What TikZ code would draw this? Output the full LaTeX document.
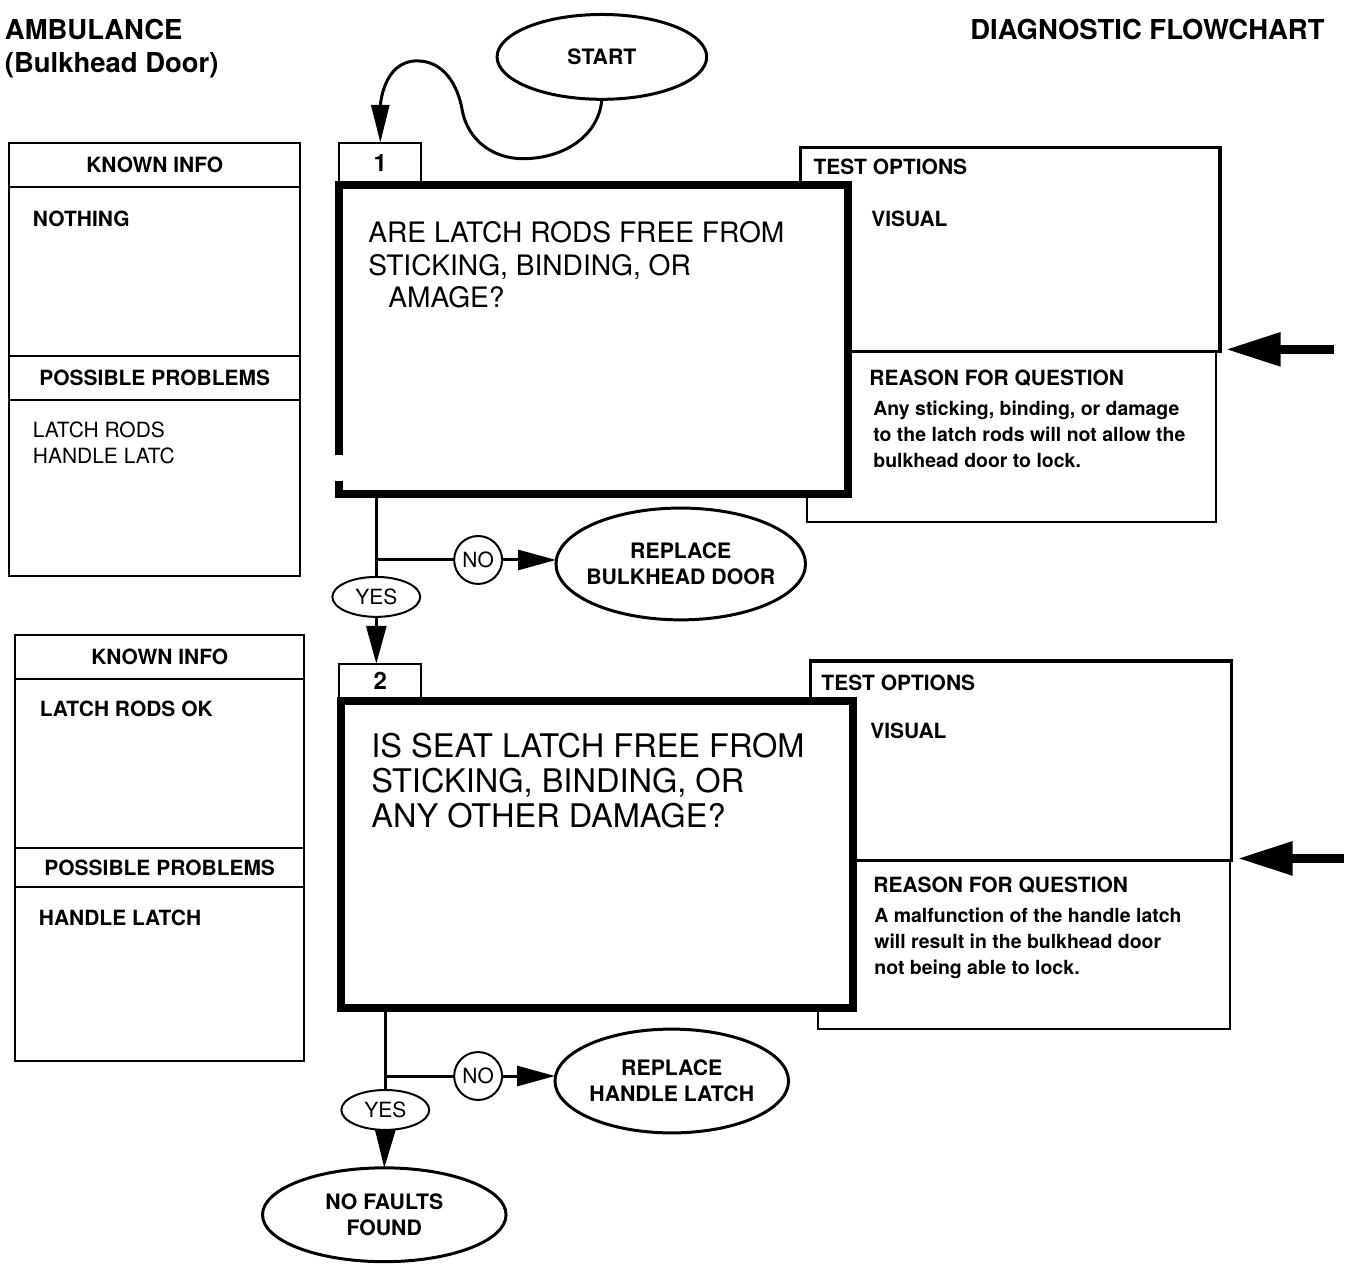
\documentclass[tikz,border=0pt]{standalone}
\usepackage{fontspec}
\setmainfont{TeX Gyre Heros}
\usetikzlibrary{arrows.meta,shapes.geometric}
\newcommand\ftitle{\fontsize{27.5}{30}\selectfont\bfseries}
\newcommand\fhead{\fontsize{21}{24}\selectfont\bfseries}
\newcommand\freg{\fontsize{21}{24}\selectfont}
\newcommand\fqa{\fontsize{28.2}{33}\selectfont}
\newcommand\fqb{\fontsize{32.6}{35}\selectfont}
\newcommand\fbody{\fontsize{19.5}{26}\selectfont\bfseries}
\newcommand\fnum{\fontsize{24}{26}\selectfont\bfseries}
\newcommand\fterm{\fontsize{21.3}{26.5}\selectfont\bfseries}
\begin{document}
\begin{tikzpicture}[x=1pt,y=-1pt,
  every node/.style={inner sep=0pt,outer sep=0pt},
  panel/.style={draw,line width=2pt,rectangle,anchor=north west},
  qbox/.style={draw,line width=8pt,rectangle,anchor=north west,fill=white},
  term/.style={draw,ellipse,line width=3pt,align=center,font=\fterm,fill=white,inner sep=-25pt},
  yesno/.style={draw,ellipse,line width=2pt,font=\freg,minimum width=88pt,minimum height=40pt,fill=white,inner sep=-5pt},
  nocirc/.style={draw,circle,line width=2pt,font=\freg,minimum size=48pt,fill=white},
  conn/.style={line width=3pt},
  arr/.style={line width=3pt,-{Triangle[length=38pt,width=20pt]}},
  bigarr/.style={line width=9pt,-{Triangle[length=55pt,width=32pt]}},
  txt/.style={anchor=base west},
]
\fill[white] (0,0) rectangle (1348,1264);

% titles
\node[txt,font=\ftitle] (t1) at (5,40) {AMBULANCE};
\node[txt,font=\ftitle] (t2) at (5,73) {(Bulkhead Door)};
\node[anchor=base east,font=\ftitle] (t3) at (1327,40) {DIAGNOSTIC FLOWCHART};

% start
\node[term,minimum width=210pt,minimum height=85pt] (start) at (603,57) {START};

% ---------- block 1 ----------
\node[panel,minimum width=292pt,minimum height=44pt,font=\fhead] (ki1h) at (9,143) {KNOWN INFO};
\node[panel,minimum width=292pt,minimum height=170pt] (ki1c) at (9,187) {};
\node[panel,minimum width=292pt,minimum height=44pt,font=\fhead] (pp1h) at (9,357) {POSSIBLE PROBLEMS};
\node[panel,minimum width=292pt,minimum height=176pt] (pp1c) at (9,401) {};
\node[txt,font=\fhead] (ki1t) at (33,226.5) {NOTHING};
\node[txt,font=\freg] (pp1a) at (33,438.5) {LATCH RODS};
\node[txt,font=\freg] (pp1b) at (33,464.5) {HANDLE LATC};

\node[panel,line width=3.5pt,minimum width=420pt,minimum height=204pt] (to1) at (802,148) {};
\node[panel,minimum width=410pt,minimum height=171pt] (rq1) at (808,352) {};
\node[panel,minimum width=82pt,minimum height=40pt,font=\fnum] (lab1) at (340,143) {1};
\node[qbox,minimum width=510pt,minimum height=310pt] (q1) at (340,185) {};
\fill[white] (334,456) rectangle (347,482);

\node[txt,font=\fqa] (q1a) at (369,243) {ARE LATCH RODS FREE FROM};
\node[txt,font=\fqa] (q1b) at (369,276) {STICKING, BINDING, OR};
\node[txt,font=\fqa] (q1c) at (389,308) {AMAGE?};

\node[txt,font=\fhead] (to1t) at (815,174.5) {TEST OPTIONS};
\node[txt,font=\fhead] (to1v) at (873,226.5) {VISUAL};
\node[txt,font=\fhead] (rq1t) at (871,386.5) {REASON FOR QUESTION};
\node[txt,font=\fbody] (rq1a) at (875,416) {Any sticking, binding, or damage};
\node[txt,font=\fbody] (rq1b) at (875,442) {to the latch rods will not allow the};
\node[txt,font=\fbody] (rq1c) at (875,468) {bulkhead door to lock.};

\coordinate (e1) at (1336,350);
\draw[bigarr,shorten >=6pt] (e1) -- (e1 -| to1.east);

\draw[line width=3pt,-{Triangle[length=38pt,width=18pt]}] (start.south) to[out=-95,in=0] (524,159) to[out=180,in=-80] (463,110) to[out=100,in=0] (418,61) to[out=180,in=90] (lab1.north);

\node[yesno] (yes1) at (377,598) {YES};
\node[nocirc] (no1) at (479,561) {NO};
\node[term,minimum width=250pt,minimum height=112pt] (rep1) at (682,565) {REPLACE\\BULKHEAD DOOR};

% ---------- block 2 ----------
\node[panel,minimum width=290pt,minimum height=44pt,font=\fhead] (ki2h) at (15,636) {KNOWN INFO};
\node[panel,minimum width=290pt,minimum height=170pt] (ki2c) at (15,680) {};
\node[panel,minimum width=290pt,minimum height=39pt,font=\fhead] (pp2h) at (15,850) {POSSIBLE PROBLEMS};
\node[panel,minimum width=290pt,minimum height=174pt] (pp2c) at (15,889) {};
\node[txt,font=\fhead] (ki2t) at (40,717.5) {LATCH RODS OK};
\node[txt,font=\fhead] (pp2a) at (39,927.5) {HANDLE LATCH};

\node[panel,line width=3.5pt,minimum width=422pt,minimum height=200pt] (to2) at (812,662) {};
\node[panel,minimum width=412pt,minimum height=169pt] (rq2) at (820,862) {};
\node[panel,minimum width=82pt,minimum height=35pt,font=\fnum] (lab2) at (340,665) {2};
\node[qbox,minimum width=513pt,minimum height=308pt] (q2) at (342,702) {};

\node[txt,font=\fqb] (q2a) at (372,759) {IS SEAT LATCH FREE FROM};
\node[txt,font=\fqb] (q2b) at (372,794) {STICKING, BINDING, OR};
\node[txt,font=\fqb] (q2c) at (372,829) {ANY OTHER DAMAGE?};

\node[txt,font=\fhead] (to2t) at (823,692) {TEST OPTIONS};
\node[txt,font=\fhead] (to2v) at (872,740) {VISUAL};
\node[txt,font=\fhead] (rq2t) at (875,894) {REASON FOR QUESTION};
\node[txt,font=\fbody] (rq2a) at (876,924) {A malfunction of the handle latch};
\node[txt,font=\fbody] (rq2b) at (876,950) {will result in the bulkhead door};
\node[txt,font=\fbody] (rq2c) at (876,976) {not being able to lock.};

\coordinate (e2) at (1346,860);
\draw[bigarr,shorten >=6pt] (e2) -- (e2 -| to2.east);

\node[yesno] (yes2) at (386,1112) {YES};
\node[nocirc] (no2) at (479,1078) {NO};
\node[term,minimum width=234pt,minimum height=104pt] (rep2) at (673,1083) {REPLACE\\HANDLE LATCH};
\node[term,minimum width=244pt,minimum height=94pt] (nf) at (385,1217) {NO FAULTS\\FOUND};

% connectors
\draw[conn] (yes1.north |- q1.south) -- (yes1.north);
\draw[conn] (yes1.north |- no1.west) -- (no1.west);
\draw[arr] (no1.east) -- (no1.east -| rep1.west);
\draw[arr] (yes1.south) -- (yes1.south |- lab2.north);

\draw[conn] (yes2.north |- q2.south) -- (yes2.north);
\draw[conn] (yes2.north |- no2.west) -- (no2.west);
\draw[arr] (no2.east) -- (no2.east -| rep2.west);
\draw[arr] (yes2.south) -- (nf.north);
\end{tikzpicture}
\end{document}
